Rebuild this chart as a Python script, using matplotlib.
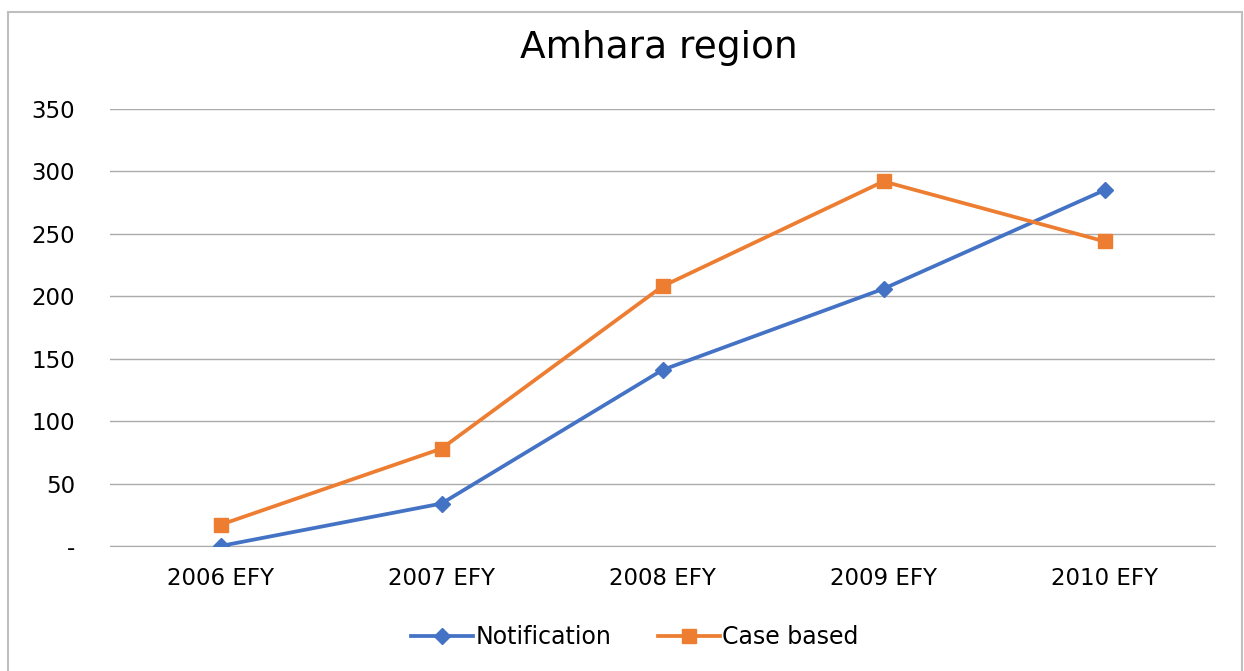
import matplotlib
matplotlib.use('Agg')
import matplotlib.pyplot as plt
from matplotlib.patches import Rectangle
from matplotlib.ticker import FuncFormatter
import numpy as np

years = ['2006 EFY', '2007 EFY', '2008 EFY', '2009 EFY', '2010 EFY']
notification = [0, 34, 141, 206, 285]
case_based = [17, 78, 208, 292, 244]

blue = '#4472C4'
orange = '#ED7D31'

fig = plt.figure(figsize=(12.44, 6.71), dpi=100)
ax = fig.add_axes([110 / 1244, 125 / 671, 1105 / 1244, 437 / 671])

# chart area border
fig.patches.append(Rectangle((8 / 1244, -0.05), 1234 / 1244, (659 / 671) + 0.05,
                             transform=fig.transFigure, fill=False,
                             edgecolor='#BFBFBF', linewidth=1.5))

x = np.arange(len(years))
ax.plot(x, notification, color=blue, linewidth=2.7, marker='D', markersize=8,
        label='Notification', zorder=3)
ax.plot(x, case_based, color=orange, linewidth=2.7, marker='s', markersize=10,
        label='Case based', zorder=3)

ax.set_xlim(-0.5, len(years) - 0.5)
ax.set_ylim(0, 350)
ax.set_yticks(range(0, 351, 50))
ax.yaxis.set_major_formatter(FuncFormatter(lambda v, p: '-' if v == 0 else f'{int(v)}'))
ax.set_xticks(x)
ax.set_xticklabels(years)
ax.grid(axis='y', color='#ABABAB', linewidth=1)
ax.set_axisbelow(True)
for s in ['top', 'right', 'left']:
    ax.spines[s].set_visible(False)
ax.spines['bottom'].set_color('#ABABAB')
ax.tick_params(axis='both', length=0, labelsize=16.5, colors='black')
ax.tick_params(axis='y', pad=25)
ax.tick_params(axis='x', pad=15)

fig.text(659 / 1244, 1 - 48 / 671, 'Amhara region', ha='center', va='center', fontsize=27)

ax.legend(loc='center', bbox_to_anchor=(0.475, -0.208), ncol=2, frameon=False,
          fontsize=17, handlelength=2.6, columnspacing=2.0, handletextpad=0.1)

fig.savefig('out.png', dpi=100)
